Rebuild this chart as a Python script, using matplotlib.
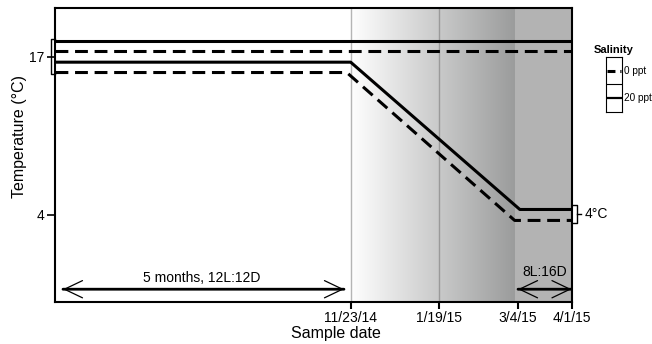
import numpy as np
import matplotlib
matplotlib.use('Agg')
import matplotlib.pyplot as plt
from matplotlib.colors import LinearSegmentedColormap

plt.rcParams['font.family'] = ['Liberation Sans', 'DejaVu Sans']

''' Schedule (x in relative position units, 0-100) '''
tick_pos = [57.15, 74.25, 89.55, 100]
tick_labels = ['11/23/14', '1/19/15', '3/4/15', '4/1/15']
ramp_start, ramp_end = 57.0, 88.9

''' Temperature profiles (°C) '''
x_20_hi = [0, 100]
t_20_hi = [18.25, 18.25]
x_0_hi = [0, 100]
t_0_hi = [17.45, 17.45]
x_20_lo = [0, 57.15, 89.9, 100]
t_20_lo = [16.55, 16.55, 4.45, 4.45]
x_0_lo = [0, 56.4, 88.9, 100]
t_0_lo = [15.7, 15.7, 3.55, 3.55]

fig = plt.figure(figsize=(6.52, 3.44), dpi=100)
ax = fig.add_axes([55.5 / 652, 1 - 302 / 344, 516.5 / 652, 294 / 344])
ax.set_xlim(0, 100)
ax.set_ylim(-3.15, 21.0)

# light-level shading: white -> grey ramp, then flat grey for 8L:16D
cmap = LinearSegmentedColormap.from_list('ramp', ['#ffffff', '#9b9c9c'])
grad = np.linspace(0, 1, 256).reshape(1, -1)
ax.imshow(grad, cmap=cmap, aspect='auto', extent=[ramp_start, ramp_end, -3.15, 21.0], zorder=0)
ax.axvspan(ramp_end, 100, color='#b3b3b3', lw=0, zorder=0)
ax.axvline(tick_pos[0], color='#b5b5b5', lw=1, zorder=1)
ax.axvline(tick_pos[1], color='#9a9a9a', lw=1, zorder=1)

dash = (4.2, 2.2)
ax.plot(x_20_hi, t_20_hi, color='black', lw=2.2, zorder=3, solid_capstyle='butt')
ax.plot(x_20_lo, t_20_lo, color='black', lw=2.2, zorder=3, solid_capstyle='butt')
ax.plot(x_0_hi, t_0_hi, color='black', lw=2.2, dashes=dash, zorder=3)
ax.plot(x_0_lo, t_0_lo, color='black', lw=2.2, dashes=dash, zorder=3)

# axes styling
for s in ax.spines.values():
    s.set_linewidth(1.5)
ax.set_xticks(tick_pos)
ax.set_xticklabels(tick_labels, fontsize=10)
ax.set_xticks(tick_pos, minor=True)
ax.tick_params(axis='x', which='major', direction='out', length=5, width=1.5, pad=1.5)
ax.tick_params(axis='x', which='minor', direction='in', length=10, width=1.5)
ax.set_yticks([4, 17])
ax.set_yticklabels(['4', '17'], fontsize=10)
ax.tick_params(axis='y', direction='out', length=6, width=1.2, pad=2)

# brackets grouping the start and end temperatures
ytr = ax.get_yaxis_transform()
ax.plot([0, -0.0085, -0.0085, 0], [18.45, 18.45, 15.55, 15.55], color='black', lw=1,
        transform=ytr, clip_on=False)
ax.plot([1, 1.0095, 1.0095, 1], [4.8, 4.8, 3.35, 3.35], color='black', lw=1,
        transform=ytr, clip_on=False)
ax.plot([1.0095, 1.0175], [4.05, 4.05], color='black', lw=1, transform=ytr, clip_on=False)
ax.text(1.025, 4.05, '4°C', transform=ytr, fontsize=10, ha='left', va='center')

# photoperiod arrows: thick shaft, thin open heads
shaft = dict(arrowstyle='-', lw=2, color='black', shrinkA=0, shrinkB=0)
heads = dict(arrowstyle='<->,head_length=1.3,head_width=0.62', mutation_scale=10,
             lw=0.9, color='black', shrinkA=0, shrinkB=0)
for x0, x1 in [(1.45, 55.85), (89.55, 99.9)]:
    ax.annotate('', xy=(x0, -2.1), xytext=(x1, -2.1), arrowprops=shaft)
    ax.annotate('', xy=(x0, -2.1), xytext=(x1, -2.1), arrowprops=heads)
ax.text(28.4, -1.2, '5 months, 12L:12D', fontsize=10, ha='center', va='center')
ax.text(94.8, -0.7, '8L:16D', fontsize=10, ha='center', va='center')

fig.text(20 / 652, 1 - 137 / 344, 'Temperature (°C)', rotation=90, fontsize=11.5,
         ha='center', va='center')
fig.text(336 / 652, 1 - 333.5 / 344, 'Sample date', fontsize=11.5, ha='center', va='center')

# legend box
lg = fig.add_axes([605.7 / 652, 1 - 111.7 / 344, 16.6 / 652, 54.7 / 344])
lg.set_xlim(0, 1)
lg.set_ylim(0, 2)
lg.set_xticks([])
lg.set_yticks([])
for s in lg.spines.values():
    s.set_linewidth(0.8)
lg.axhline(1, color='black', lw=0.8)
lg.plot([0.1, 0.9], [1.5, 1.5], color='black', lw=2.2, dashes=(2.6, 1.6))
lg.plot([0.1, 0.9], [0.5, 0.5], color='black', lw=1.6)
lg.text(1.08, 1.5, '0 ppt', fontsize=7.2, ha='left', va='center', clip_on=False)
lg.text(1.08, 0.5, '20 ppt', fontsize=7.2, ha='left', va='center', clip_on=False)
lg.text(0.5, 2.25, 'Salinity', fontsize=8, fontweight='bold', ha='center', va='center')

fig.savefig('out.png', dpi=100)
